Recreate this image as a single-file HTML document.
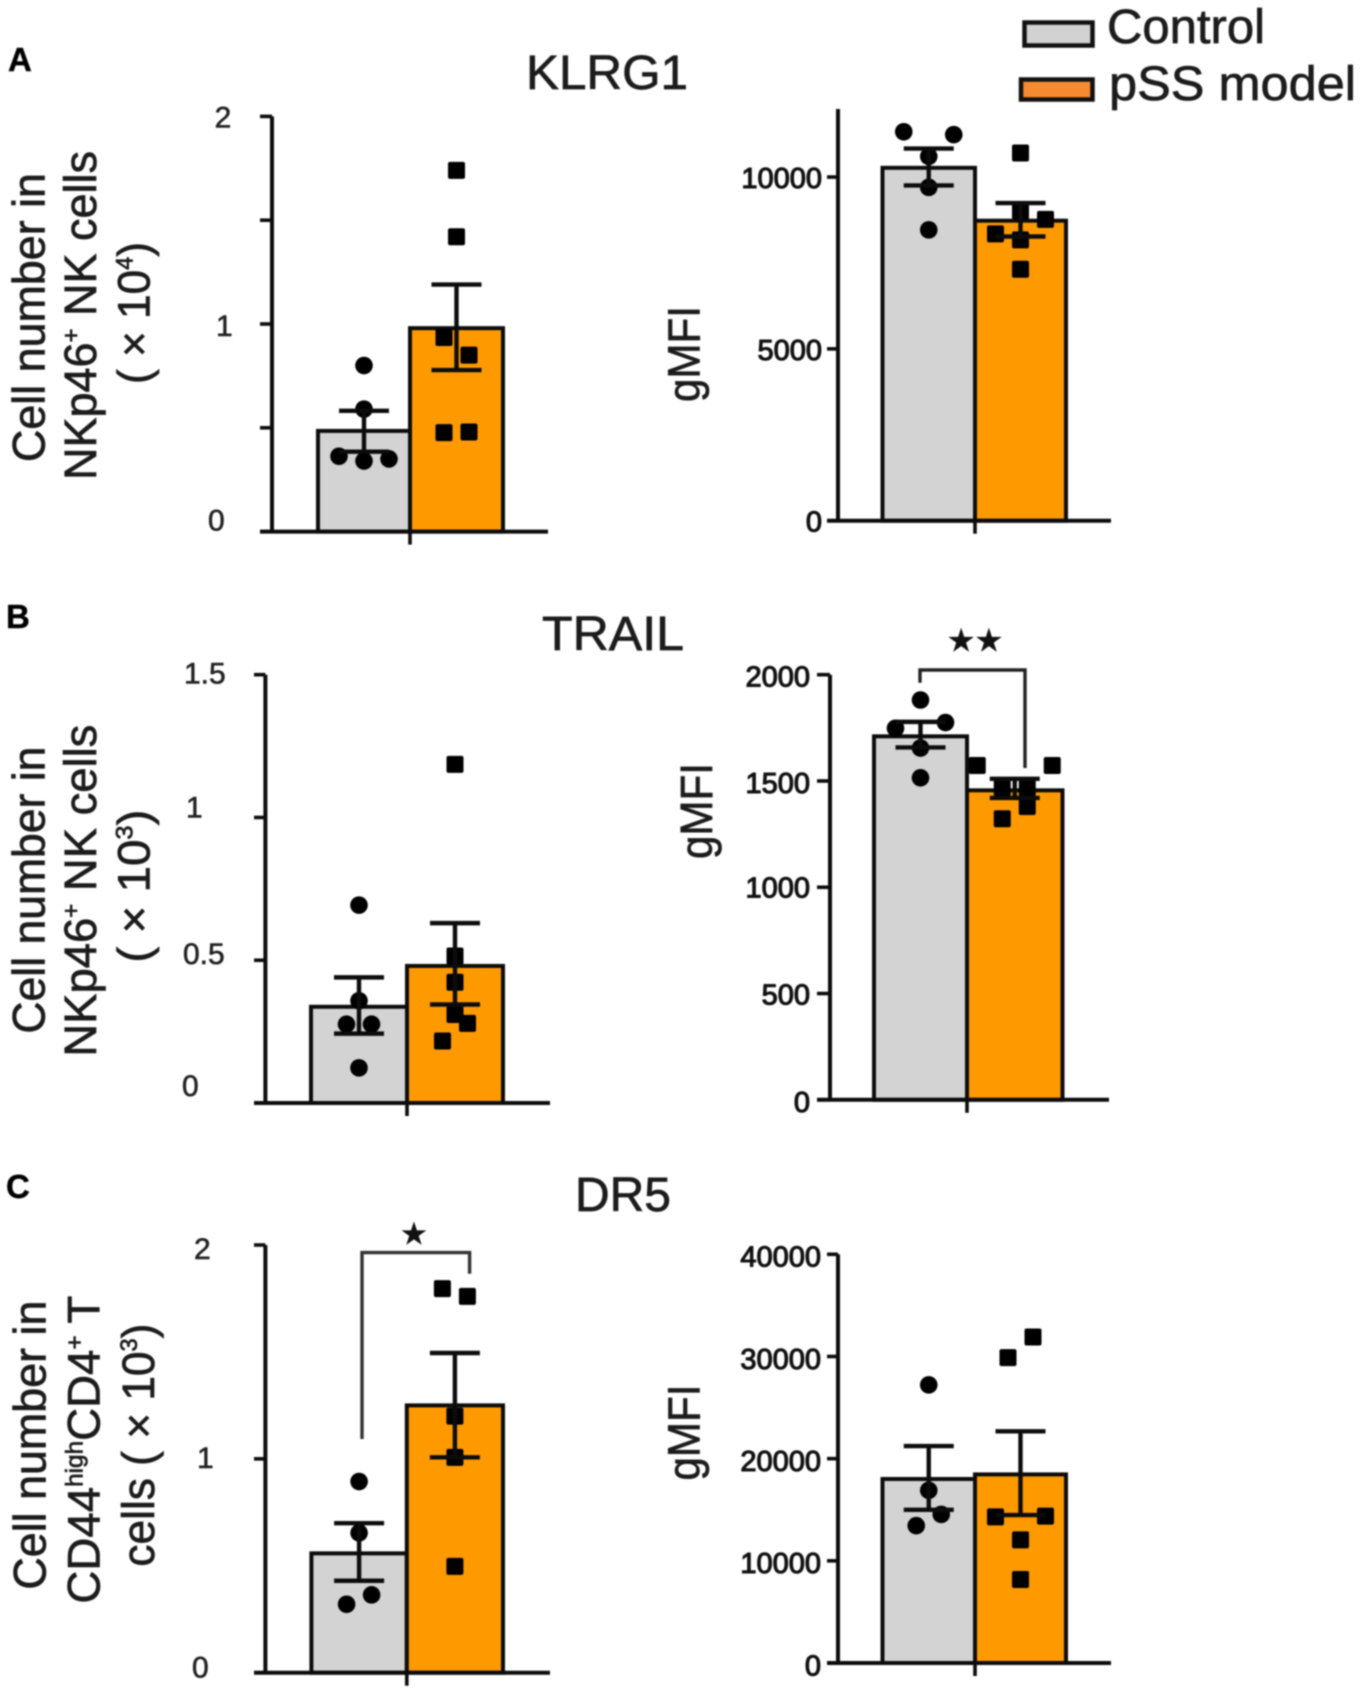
<!DOCTYPE html>
<html lang="en">
<head>
<meta charset="utf-8">
<title>NK cell receptor bar charts</title>
<style>
html,body{margin:0;padding:0;background:#fff;width:1360px;height:1695px;overflow:hidden}
svg{display:block;filter:blur(0.8px)}
text{font-family:"Liberation Sans",Arial,sans-serif;fill:#1c1c1c}
.ylab{font-size:45px;stroke:#1c1c1c;stroke-width:.7px}
.title{font-size:48px;stroke:#1c1c1c;stroke-width:.7px}
.leg{font-size:48px;fill:#1c1c1c;stroke:#1c1c1c;stroke-width:.7px}
.letter{font-size:33px;font-weight:bold;fill:#000;stroke:#000;stroke-width:.4px}
.tick{font-size:30px;fill:#222;stroke:#222;stroke-width:.6px}
.tickb{font-size:29px;fill:#111;stroke:#111;stroke-width:1.1px}
.star{font-family:"DejaVu Sans",sans-serif;fill:#111;stroke:#111;stroke-width:.6px}
</style>
</head>
<body>
<svg id="fig" xmlns="http://www.w3.org/2000/svg" width="1360" height="1695" viewBox="0 0 1360 1695">
  <rect width="1360" height="1695" fill="#fff"/>

  <text class="letter" x="8" y="71">A</text>
  <text class="letter" x="6" y="628">B</text>
  <text class="letter" x="6" y="1198">C</text>

  <text class="title" x="526" y="89" textLength="162" lengthAdjust="spacingAndGlyphs">KLRG1</text>
  <text class="title" x="542" y="650" textLength="142" lengthAdjust="spacingAndGlyphs">TRAIL</text>
  <text class="title" x="575" y="1211" textLength="96" lengthAdjust="spacingAndGlyphs">DR5</text>

  <rect x="1024.5" y="22.5" width="68" height="23" fill="#d2d2d2" stroke="#111" stroke-width="4.5"/>
  <text class="leg" x="1107" y="43" textLength="158" lengthAdjust="spacingAndGlyphs">Control</text>
  <rect x="1021" y="79.5" width="71.5" height="20" fill="#f58a30" stroke="#111" stroke-width="4.5"/>
  <text class="leg" x="1109" y="100" textLength="247" lengthAdjust="spacingAndGlyphs">pSS model</text>

  <g transform="translate(44.7,462) rotate(-90)">
    <text class="ylab" x="0" y="0" textLength="289" lengthAdjust="spacingAndGlyphs">Cell number in</text>
    <text class="ylab" x="-18" y="51.5" textLength="329" lengthAdjust="spacingAndGlyphs">NKp46<tspan dy="-17" font-size="24">+</tspan><tspan dy="17"> NK cells</tspan></text>
    <text class="ylab" x="78" y="105" textLength="142" lengthAdjust="spacingAndGlyphs">( × 10<tspan dy="-17" font-size="24">4</tspan><tspan dy="17">)</tspan></text>
  </g>
  <g transform="translate(44.7,1033.6) rotate(-90)">
    <text class="ylab" x="0" y="0" textLength="287" lengthAdjust="spacingAndGlyphs">Cell number in</text>
    <text class="ylab" x="-23" y="51.5" textLength="332" lengthAdjust="spacingAndGlyphs">NKp46<tspan dy="-17" font-size="24">+</tspan><tspan dy="17"> NK cells</tspan></text>
    <text class="ylab" x="71" y="105" textLength="153" lengthAdjust="spacingAndGlyphs">( × 10<tspan dy="-17" font-size="24">3</tspan><tspan dy="17">)</tspan></text>
  </g>
  <g transform="translate(45.5,1589.6) rotate(-90)">
    <text class="ylab" x="0" y="0" textLength="289" lengthAdjust="spacingAndGlyphs">Cell number in</text>
    <text class="ylab" x="-14" y="54" textLength="308" lengthAdjust="spacingAndGlyphs">CD44<tspan dy="-17" font-size="24">high</tspan><tspan dy="17">CD4</tspan><tspan dy="-17" font-size="24">+</tspan><tspan dy="17"> T</tspan></text>
    <text class="ylab" x="23" y="108.5" textLength="243" lengthAdjust="spacingAndGlyphs">cells ( × 10<tspan dy="-17" font-size="24">3</tspan><tspan dy="17">)</tspan></text>
  </g>
  <text class="ylab" transform="translate(699.5,402) rotate(-90)" textLength="96" lengthAdjust="spacingAndGlyphs">gMFI</text>
  <text class="ylab" transform="translate(712,859) rotate(-90)" textLength="96" lengthAdjust="spacingAndGlyphs">gMFI</text>
  <text class="ylab" transform="translate(699.5,1480.5) rotate(-90)" textLength="96" lengthAdjust="spacingAndGlyphs">gMFI</text>

  <g id="charts"></g>

  <path d="M920 682.7V670H1025V768" fill="none" stroke="#222" stroke-width="3.4"/>
  <text class="star" x="975" y="651" font-size="31" text-anchor="middle">★★</text>
  <path d="M362 1439V1252.6H469.6V1273.8" fill="none" stroke="#333" stroke-width="3.4"/>
  <text class="star" x="414" y="1244" font-size="30" text-anchor="middle">★</text>
</svg>

<script>
// Panel A, KLRG1 cell number
const aCountTicks = [0, 0.5, 1, 1.5, 2];
const aCountTickLabels = ['0', '', '1', '', '2'];
const aCountMeans = [0.485, 0.98];
const aCountErrLow = [0.385, 0.778];
const aCountErrHigh = [0.582, 1.19];
const aCountControl = [0.8, 0.59, 0.363, 0.34, 0.35];
const aCountControlSwarm = [0, 0, -2, 0, 2];
const aCountModel = [1.74, 1.42, 0.935, 0.85, 0.477, 0.48];
const aCountModelSwarm = [0, 0, -1, 1, -1, 1];

// Panel A, KLRG1 gMFI
const aMfiTicks = [0, 5000, 10000];
const aMfiTickLabels = ['0', '5000', '10000'];
const aMfiMeans = [10268, 8730];
const aMfiErrLow = [9756, 8270];
const aMfiErrHigh = [10830, 9244];
const aMfiControl = [11317, 11234, 10600, 9700, 8463];
const aMfiControlSwarm = [-2, 2, 0, 0, 0];
const aMfiModel = [10700, 9010, 8770, 8345, 8170, 7317];
const aMfiModelSwarm = [0, 0, 2, -2, 0, 0];

// Panel B, TRAIL cell number
const bCountTicks = [0, 0.5, 1, 1.5];
const bCountTickLabels = ['0', '0.5', '1', '1.5'];
const bCountMeans = [0.337, 0.48];
const bCountErrLow = [0.243, 0.345];
const bCountErrHigh = [0.44, 0.63];
const bCountControl = [0.693, 0.358, 0.276, 0.276, 0.123];
const bCountControlSwarm = [0, 0, -1, 1, 0];
const bCountModel = [1.186, 0.515, 0.423, 0.31, 0.279, 0.217];
const bCountModelSwarm = [0, 0, 0, 0, 1, -1];

// Panel B, TRAIL gMFI
const bMfiTicks = [0, 500, 1000, 1500, 2000];
const bMfiTickLabels = ['0', '500', '1000', '1500', '2000'];
const bMfiMeans = [1710, 1456];
const bMfiErrLow = [1658, 1420];
const bMfiErrHigh = [1778, 1510];
const bMfiControl = [1881, 1775, 1748, 1655, 1515];
const bMfiControlSwarm = [0, 2, -2, 0, 0];
const bMfiModel = [1573, 1573, 1467, 1467, 1380, 1322];
const bMfiModelSwarm = [-3, 3, -1, 1, 1, -1];

// Panel C, DR5 cell number
const cCountTicks = [0, 1, 2];
const cCountTickLabels = ['0', '1', '2'];
const cCountMeans = [0.558, 1.25];
const cCountErrLow = [0.43, 1.007];
const cCountErrHigh = [0.699, 1.495];
const cCountControl = [0.894, 0.654, 0.364, 0.32];
const cCountControlSwarm = [0, 0, 1, -1];
const cCountModel = [1.796, 1.76, 1.2, 1.007, 0.497];
const cCountModelSwarm = [-1, 1, 0, 0, 0];

// Panel C, DR5 gMFI
const cMfiTicks = [0, 10000, 20000, 30000, 40000];
const cMfiTickLabels = ['0', '10000', '20000', '30000', '40000'];
const cMfiMeans = [18009, 18459];
const cMfiErrLow = [14996, 14476];
const cMfiErrHigh = [21230, 22680];
const cMfiControl = [27220, 16900, 14545, 13440];
const cMfiControlSwarm = [0, 0, 1, -1];
const cMfiModel = [31900, 29890, 14300, 14370, 12050, 8170];
const cMfiModelSwarm = [1, -1, -2, 2, 0, 0];

const SVGNS = 'http://www.w3.org/2000/svg';
const chartsRoot = document.getElementById('charts');
const INK = '#0c0c0c';
const BAR_FILLS = ['#d3d3d3', '#fe9a00'];
const SWARM_STEP = 12.5;
const CAP_HALF = 25;

function make(tag, attrs, parent) {
  const node = document.createElementNS(SVGNS, tag);
  for (const k in attrs) node.setAttribute(k, attrs[k]);
  parent.appendChild(node);
  return node;
}

function drawPanel(id, frame, d) {
  const g = make('g', {}, chartsRoot);
  
  
  const y = v => frame.y0 - (v / frame.domainMax) * (frame.y0 - frame.yMax);
  const edges = [frame.barL, frame.barM, frame.barR];

  // bars
  d.means.forEach((m, i) => {
    const top = y(m);
    const bar = make('rect', {x: edges[i], y: top, width: edges[i + 1] - edges[i], height: frame.y0 - top, fill: BAR_FILLS[i], stroke: INK, 'stroke-width': 4}, g);
    
    
  });

  // y axis
  const axis = make('line', {x1: frame.axisX, x2: frame.axisX, y1: y(frame.domainMax), y2: frame.y0, stroke: INK, 'stroke-width': 4}, g);
  
  

  // x axis with its centre tick
  const base = make('line', {x1: frame.baseL, x2: frame.baseR, y1: frame.y0, y2: frame.y0, stroke: INK, 'stroke-width': 4}, g);
  
  
  const xTick = make('line', {x1: frame.barM, x2: frame.barM, y1: frame.y0, y2: frame.y0 + 13, stroke: INK, 'stroke-width': 3.6}, g);
  
  

  // y ticks and labels
  d.ticks.forEach((t, i) => {
    const tick = make('line', {x1: frame.tickL, x2: frame.axisX, y1: y(t), y2: y(t), stroke: INK, 'stroke-width': 3.6}, g);
    
    
    if (!d.tickLabels[i]) return;
    const label = make('text', {x: frame.labelX[i], y: y(t) + frame.labelDy[i] + 10, 'text-anchor': frame.anchor, class: frame.labelClass}, g);
    label.textContent = d.tickLabels[i];
    
    
  });

  // points and error bars
  [[d.control, d.controlSwarm], [d.model, d.modelSwarm]].forEach(([vals, swarm], s) => {
    const cx = (edges[s] + edges[s + 1]) / 2;
    vals.forEach((v, i) => {
      const px = cx + swarm[i] * SWARM_STEP;
      let mark;
      if (s === 0) {
        mark = make('circle', {cx: px, cy: y(v), r: 8.8, fill: '#000'}, g);
      } else {
        mark = make('rect', {x: px - 8.5, y: y(v) - 8.5, width: 17, height: 17, fill: '#000', rx: 2}, g);
      }
      
      
    });
    const lo = y(d.errLow[s]);
    const hi = y(d.errHigh[s]);
    const err = make('path', {d: 'M' + (cx - CAP_HALF) + ' ' + hi + 'H' + (cx + CAP_HALF) + 'M' + cx + ' ' + hi + 'V' + lo + 'M' + (cx - CAP_HALF) + ' ' + lo + 'H' + (cx + CAP_HALF), fill: 'none', stroke: INK, 'stroke-width': 4.4}, g);
    
    
  });
}

drawPanel('a-count',
  {axisX: 272, y0: 531.6, yMax: 116.4, domainMax: 2, barL: 318, barM: 410, barR: 503, baseL: 260, baseR: 548, tickL: 260, anchor: 'start', labelClass: 'tick', labelX: [208, 0, 216, 0, 214.6], labelDy: [-11, 0, 2, 0, 1]},
  {ticks: aCountTicks, tickLabels: aCountTickLabels, means: aCountMeans, errLow: aCountErrLow, errHigh: aCountErrHigh, control: aCountControl, controlSwarm: aCountControlSwarm, model: aCountModel, modelSwarm: aCountModelSwarm});

drawPanel('a-gmfi',
  {axisX: 838, y0: 520.7, yMax: 109, domainMax: 11980, barL: 882.5, barM: 975, barR: 1066, baseL: 827, baseR: 1111, tickL: 827, anchor: 'end', labelClass: 'tickb', labelX: [822, 822, 822], labelDy: [1, 1, 1]},
  {ticks: aMfiTicks, tickLabels: aMfiTickLabels, means: aMfiMeans, errLow: aMfiErrLow, errHigh: aMfiErrHigh, control: aMfiControl, controlSwarm: aMfiControlSwarm, model: aMfiModel, modelSwarm: aMfiModelSwarm});

drawPanel('b-count',
  {axisX: 265.4, y0: 1103, yMax: 674.7, domainMax: 1.5, barL: 311, barM: 407, barR: 503, baseL: 254, baseR: 550, tickL: 254, anchor: 'start', labelClass: 'tick', labelX: [182, 183, 186, 184], labelDy: [-17, -6, -10, -1]},
  {ticks: bCountTicks, tickLabels: bCountTickLabels, means: bCountMeans, errLow: bCountErrLow, errHigh: bCountErrHigh, control: bCountControl, controlSwarm: bCountControlSwarm, model: bCountModel, modelSwarm: bCountModelSwarm});

drawPanel('b-gmfi',
  {axisX: 830, y0: 1099.8, yMax: 674.7, domainMax: 2000, barL: 874, barM: 967, barR: 1062.5, baseL: 817, baseR: 1109, tickL: 817, anchor: 'end', labelClass: 'tickb', labelX: [810, 810, 810, 810, 810], labelDy: [2, 1, 0, 2, 2]},
  {ticks: bMfiTicks, tickLabels: bMfiTickLabels, means: bMfiMeans, errLow: bMfiErrLow, errHigh: bMfiErrHigh, control: bMfiControl, controlSwarm: bMfiControlSwarm, model: bMfiModel, modelSwarm: bMfiModelSwarm});

drawPanel('c-count',
  {axisX: 265.4, y0: 1672.7, yMax: 1245, domainMax: 2, barL: 311.4, barM: 406.8, barR: 503, baseL: 254, baseR: 550, tickL: 254, anchor: 'start', labelClass: 'tick', labelX: [192, 197, 194], labelDy: [-5, -1, 4]},
  {ticks: cCountTicks, tickLabels: cCountTickLabels, means: cCountMeans, errLow: cCountErrLow, errHigh: cCountErrHigh, control: cCountControl, controlSwarm: cCountControlSwarm, model: cCountModel, modelSwarm: cCountModelSwarm});

drawPanel('c-gmfi',
  {axisX: 838, y0: 1663, yMax: 1254.3, domainMax: 40000, barL: 882.5, barM: 975, barR: 1066, baseL: 827, baseR: 1111, tickL: 827, anchor: 'end', labelClass: 'tickb', labelX: [821, 821, 821, 821, 821], labelDy: [2.7, 2, 2.4, 2.5, 2]},
  {ticks: cMfiTicks, tickLabels: cMfiTickLabels, means: cMfiMeans, errLow: cMfiErrLow, errHigh: cMfiErrHigh, control: cMfiControl, controlSwarm: cMfiControlSwarm, model: cMfiModel, modelSwarm: cMfiModelSwarm});
</script>
</body>
</html>
